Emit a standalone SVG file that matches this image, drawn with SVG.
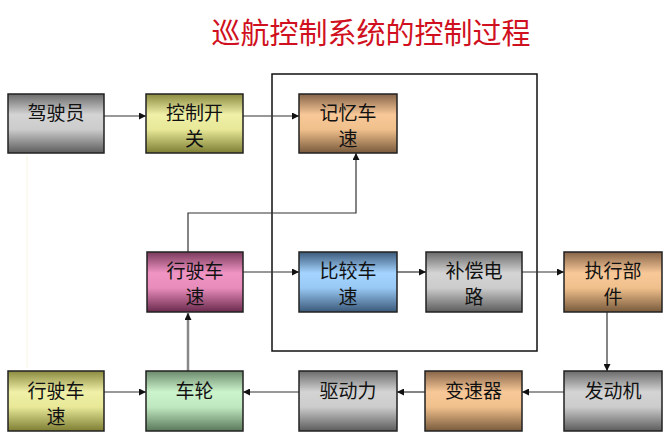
<svg xmlns="http://www.w3.org/2000/svg" width="671" height="439" viewBox="0 0 671 439">
<style>
.box{stroke:#222;stroke-width:1.5}
.t{font-family:"Noto Sans CJK SC","Noto Sans CJK JP",sans-serif;font-size:19px;fill:#111;text-anchor:middle}
.c{fill:none;stroke:#333;stroke-width:1.2}
.title{font-family:"Noto Sans CJK SC","Noto Sans CJK JP",sans-serif;font-size:29px;fill:#d01020;text-anchor:middle}
</style>
<defs>
<marker id="ah" viewBox="0 0 10 10" refX="10" refY="5" markerWidth="7" markerHeight="7" markerUnits="userSpaceOnUse" orient="auto"><path d="M0,0 L10,5 L0,10 z" fill="#111"/></marker>
<linearGradient id="gGray" x1="0" y1="0" x2="0" y2="1"><stop offset="0" stop-color="#6a6a6a"/><stop offset="0.35" stop-color="#d4d4d4"/><stop offset="0.6" stop-color="#cccccc"/><stop offset="1" stop-color="#5c5c5c"/></linearGradient>
<linearGradient id="gYel" x1="0" y1="0" x2="0" y2="1"><stop offset="0" stop-color="#8a8a40"/><stop offset="0.35" stop-color="#f0f0a8"/><stop offset="0.6" stop-color="#e8e898"/><stop offset="1" stop-color="#7e7e34"/></linearGradient>
<linearGradient id="gTan" x1="0" y1="0" x2="0" y2="1"><stop offset="0" stop-color="#866448"/><stop offset="0.35" stop-color="#f8c898"/><stop offset="0.6" stop-color="#f0c08c"/><stop offset="1" stop-color="#785a3c"/></linearGradient>
<linearGradient id="gPink" x1="0" y1="0" x2="0" y2="1"><stop offset="0" stop-color="#7a3a5c"/><stop offset="0.35" stop-color="#f094c4"/><stop offset="0.6" stop-color="#e88cbc"/><stop offset="1" stop-color="#6a2a4c"/></linearGradient>
<linearGradient id="gBlue" x1="0" y1="0" x2="0" y2="1"><stop offset="0" stop-color="#3c5a7a"/><stop offset="0.35" stop-color="#a4d4ff"/><stop offset="0.6" stop-color="#98c8f4"/><stop offset="1" stop-color="#3a5878"/></linearGradient>
<linearGradient id="gGreen" x1="0" y1="0" x2="0" y2="1"><stop offset="0" stop-color="#6c8a6c"/><stop offset="0.35" stop-color="#ccf4cc"/><stop offset="0.6" stop-color="#c0e8c0"/><stop offset="1" stop-color="#5a785a"/></linearGradient>
</defs>
<rect width="671" height="439" fill="#fff"/>
<text class="title" x="371" y="44">巡航控制系统的控制过程</text>

<rect x="272" y="74" width="265" height="277" fill="none" stroke="#111" stroke-width="1.5"/>

<g id="connectors">
<line x1="27" y1="156" x2="27" y2="368" stroke="#fafaf0" stroke-width="2"/>
<line class="c" x1="104" y1="116" x2="146" y2="116" marker-end="url(#ah)"/>
<line class="c" x1="243" y1="116" x2="299" y2="116" marker-end="url(#ah)"/>
<polyline class="c" points="188,252 188,213 356,213 356,153" marker-end="url(#ah)"/>
<line class="c" x1="243" y1="272" x2="299" y2="272" marker-end="url(#ah)"/>
<line class="c" x1="397" y1="272" x2="426" y2="272" marker-end="url(#ah)"/>
<line class="c" x1="522" y1="272" x2="564" y2="272" marker-end="url(#ah)"/>
<line class="c" x1="607" y1="312" x2="607" y2="371" marker-end="url(#ah)"/>
<line class="c" x1="564" y1="392" x2="522" y2="392" marker-end="url(#ah)"/>
<line class="c" x1="425" y1="392" x2="397" y2="392" marker-end="url(#ah)"/>
<line class="c" x1="299" y1="392" x2="243" y2="392" marker-end="url(#ah)"/>
<line class="c" x1="104" y1="392" x2="146" y2="392" marker-end="url(#ah)"/>
<line x1="188" y1="371" x2="188" y2="313" stroke="#888" stroke-width="2.5" marker-end="url(#ah)"/>
</g>

<g id="n-driver"><rect class="box" x="8" y="94" width="96" height="59" fill="url(#gGray)"/><text class="t" x="56" y="120">驾驶员</text></g>
<g id="n-switch"><rect class="box" x="146" y="94" width="97" height="59" fill="url(#gYel)"/><text class="t" x="194.5" y="120">控制开</text><text class="t" x="194.5" y="146">关</text></g>
<g id="n-memory"><rect class="box" x="299" y="94" width="98" height="59" fill="url(#gTan)"/><text class="t" x="348" y="120">记忆车</text><text class="t" x="348" y="146">速</text></g>
<g id="n-speed"><rect class="box" x="147" y="252" width="96" height="60" fill="url(#gPink)"/><text class="t" x="195" y="278">行驶车</text><text class="t" x="195" y="304">速</text></g>
<g id="n-compare"><rect class="box" x="299" y="252" width="98" height="60" fill="url(#gBlue)"/><text class="t" x="348" y="278">比较车</text><text class="t" x="348" y="304">速</text></g>
<g id="n-comp"><rect class="box" x="426" y="252" width="96" height="60" fill="url(#gGray)"/><text class="t" x="474" y="278">补偿电</text><text class="t" x="474" y="304">路</text></g>
<g id="n-actuator"><rect class="box" x="564" y="252" width="98" height="60" fill="url(#gTan)"/><text class="t" x="613" y="278">执行部</text><text class="t" x="613" y="304">件</text></g>
<g id="n-speed2"><rect class="box" x="8" y="371" width="96" height="60" fill="url(#gYel)"/><text class="t" x="56" y="398">行驶车</text><text class="t" x="56" y="424">速</text></g>
<g id="n-wheel"><rect class="box" x="146" y="371" width="97" height="60" fill="url(#gGreen)"/><text class="t" x="194.5" y="398">车轮</text></g>
<g id="n-drive"><rect class="box" x="299" y="371" width="98" height="60" fill="url(#gGray)"/><text class="t" x="348" y="398">驱动力</text></g>
<g id="n-gear"><rect class="box" x="425" y="371" width="97" height="60" fill="url(#gTan)"/><text class="t" x="473.5" y="398">变速器</text></g>
<g id="n-engine"><rect class="box" x="564" y="371" width="98" height="60" fill="url(#gGray)"/><text class="t" x="613" y="398">发动机</text></g>
</svg>
